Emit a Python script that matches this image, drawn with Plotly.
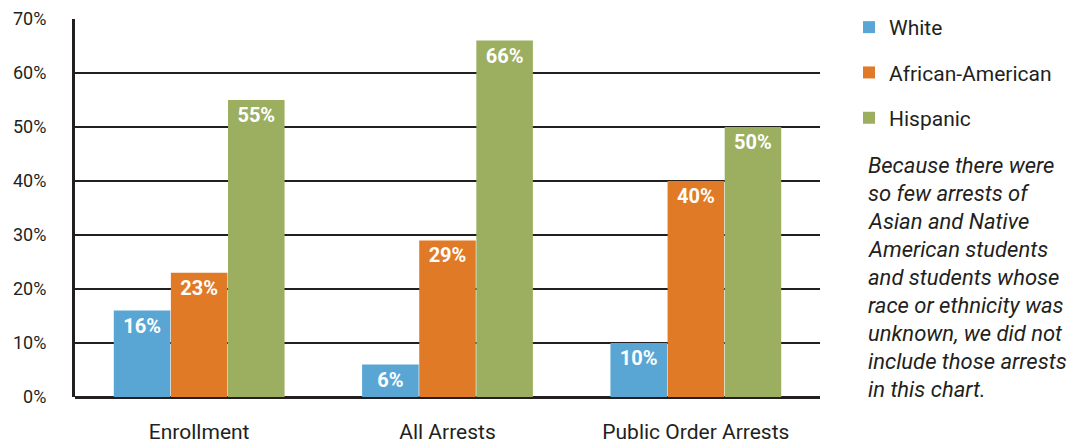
import plotly.graph_objects as go

categories = ["Enrollment", "All Arrests", "Public Order Arrests"]
white = [16, 6, 10]
african_american = [23, 29, 40]
hispanic = [55, 66, 50]
series_names = ["White", "African-American", "Hispanic"]
colors = ["#59a6d4", "#e07a27", "#9cae5f"]
y_ticks = [0, 10, 20, 30, 40, 50, 60, 70]
note_lines = ["Because there were", "so few arrests of", "Asian and Native",
              "American students", "and students whose", "race or ethnicity was",
              "unknown, we did not", "include those arrests", "in this chart."]

FONT = "Roboto, Liberation Sans, sans-serif"
TXT = "#231f20"

# page body has an 8px margin; plot area spans screen x 75..820, y 19..397
PX0, PX1, PY0, PY1 = 75, 820, 19, 397
def px(x):
    return (x - PX0) / (PX1 - PX0)
def py(y):
    return (PY1 - y) / (PY1 - PY0)

fig = go.Figure()
for i, (name, vals) in enumerate(zip(series_names, [white, african_american, hispanic])):
    fig.add_trace(go.Bar(
        x=categories, y=vals, name=name,
        marker=dict(color=colors[i], line=dict(width=0)),
        text=[f"{v}%" for v in vals],
        textposition="inside", insidetextanchor="end",
        textfont=dict(family=FONT, size=20, color="white", weight="bold"),
        constraintext="none", cliponaxis=False,
        legendgroup=name,
    ))

annotations = []
for k, line in enumerate(note_lines):
    annotations.append(dict(
        text=f"<i>{line}</i>", xref="paper", yref="paper",
        x=px(866), y=py(165 + k * 28.1),
        xanchor="left", yanchor="middle", align="left", showarrow=False,
        font=dict(family=FONT, size=22, color=TXT),
    ))

fig.update_layout(
    width=1080, height=436,
    margin=dict(l=67, r=268, t=11, b=47, autoexpand=False),
    paper_bgcolor="white", plot_bgcolor="white",
    barmode="group", bargap=0.31, bargroupgap=0.01,
    font=dict(family=FONT, color=TXT, size=17),
    showlegend=True,
    legend=dict(x=px(849), y=py(7), xanchor="left", yanchor="top",
                font=dict(family=FONT, size=21, color=TXT),
                tracegroupgap=15, itemwidth=30, bgcolor="rgba(0,0,0,0)"),
    xaxis=dict(showgrid=False, showline=False, ticks="", ticklabelstandoff=20,
               tickfont=dict(size=21, color=TXT)),
    yaxis=dict(range=[0, 70], tickvals=y_ticks, ticktext=[f"{t}%" for t in y_ticks],
               showgrid=True, gridcolor=TXT, gridwidth=2.2,
               showline=True, linecolor=TXT, linewidth=3,
               zeroline=True, zerolinecolor=TXT, zerolinewidth=3,
               ticks="", ticklabelstandoff=22,
               tickfont=dict(size=18, color=TXT)),
    annotations=annotations,
)

fig.write_html("out.html")
